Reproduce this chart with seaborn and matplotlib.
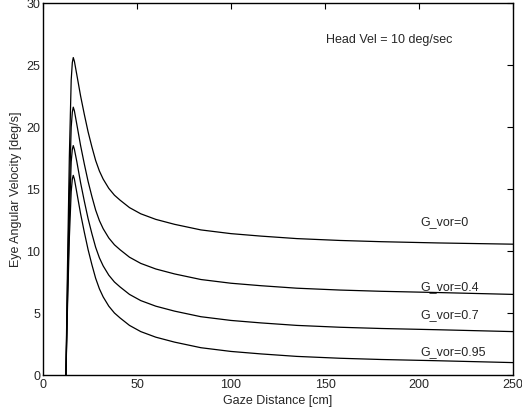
import numpy as np
import pandas as pd
import matplotlib
matplotlib.use("Agg")
import matplotlib.pyplot as plt
import seaborn as sns

distance = [12.2, 13, 14, 15, 15.6, 16.1, 16.7, 18, 20, 22, 24, 26, 28, 30, 32, 35, 38, 41,
            46, 52, 60, 70, 84, 100, 116, 135, 158, 180, 210, 250]

# eye angular velocity [deg/s] for each VOR gain
vel_g0 = [0, 8.5, 17.5, 23.8, 25.2, 25.6, 25.3, 24.2, 22.5, 21.0, 19.6, 18.4, 17.3, 16.45, 15.8,
          15.05, 14.5, 14.1, 13.5, 13.0, 12.55, 12.15, 11.7, 11.4, 11.2, 11.0, 10.85, 10.75,
          10.65, 10.55]
vel_g04 = [0, 7.0, 14.5, 20.0, 21.2, 21.6, 21.3, 20.2, 18.5, 17.0, 15.6, 14.4, 13.3, 12.45, 11.8,
           11.05, 10.5, 10.1, 9.5, 9.0, 8.55, 8.15, 7.7, 7.4, 7.2, 7.0, 6.85, 6.75, 6.65, 6.5]
vel_g07 = [0, 6.0, 12.5, 17.2, 18.2, 18.5, 18.2, 17.2, 15.5, 14.0, 12.6, 11.4, 10.3, 9.45, 8.8,
           8.05, 7.5, 7.1, 6.5, 6.0, 5.55, 5.15, 4.7, 4.4, 4.2, 4.0, 3.85, 3.75, 3.65, 3.5]
vel_g095 = [0, 5.3, 11.0, 14.8, 15.8, 16.1, 15.8, 14.7, 13.0, 11.5, 10.1, 8.9, 7.8, 6.95, 6.3,
            5.55, 5.0, 4.6, 4.0, 3.5, 3.05, 2.65, 2.2, 1.9, 1.7, 1.5, 1.35, 1.25, 1.15, 1.0]

gain_names = ["G_vor=0", "G_vor=0.4", "G_vor=0.7", "G_vor=0.95"]
label_y = [12.36, 7.07, 4.84, 1.88]

series = [vel_g0, vel_g04, vel_g07, vel_g095]
df = pd.concat([pd.DataFrame({"dist": distance, "vel": v, "gain": g})
                for v, g in zip(series, gain_names)], ignore_index=True)

sns.set_style("white")
plt.rcParams['font.family'] = ['Liberation Sans', 'DejaVu Sans']
plt.rcParams['xtick.direction'] = 'in'
plt.rcParams['ytick.direction'] = 'in'

fig = plt.figure(figsize=(5.22, 4.15), dpi=100)
ax = fig.add_axes([43 / 522, 40 / 415, 470 / 522, 372 / 415])

sns.lineplot(data=df, x="dist", y="vel", units="gain", estimator=None,
             color="black", linewidth=0.9, sort=False, ax=ax)

for name, y in zip(gain_names, label_y):
    ax.text(200.5, y, name, fontsize=9, va="center", ha="left")
ax.text(150.4, 27.0, "Head Vel = 10 deg/sec", fontsize=9, va="center", ha="left")

ax.set_xlim(0, 250)
ax.set_ylim(0, 30)
ax.set_xticks(range(0, 251, 50))
ax.set_yticks(range(0, 31, 5))
ax.tick_params(axis="both", labelsize=9, length=4, width=0.8, color="black",
               top=True, right=True, pad=2)
ax.tick_params(axis="x", pad=3)
for s in ax.spines.values():
    s.set_color("black")
    s.set_linewidth(1.0)
ax.set_xlabel("Gaze Distance [cm]", fontsize=9, labelpad=3)
ax.set_ylabel("Eye Angular Velocity [deg/s]", fontsize=9, labelpad=3)

fig.savefig("out.png", dpi=100)
